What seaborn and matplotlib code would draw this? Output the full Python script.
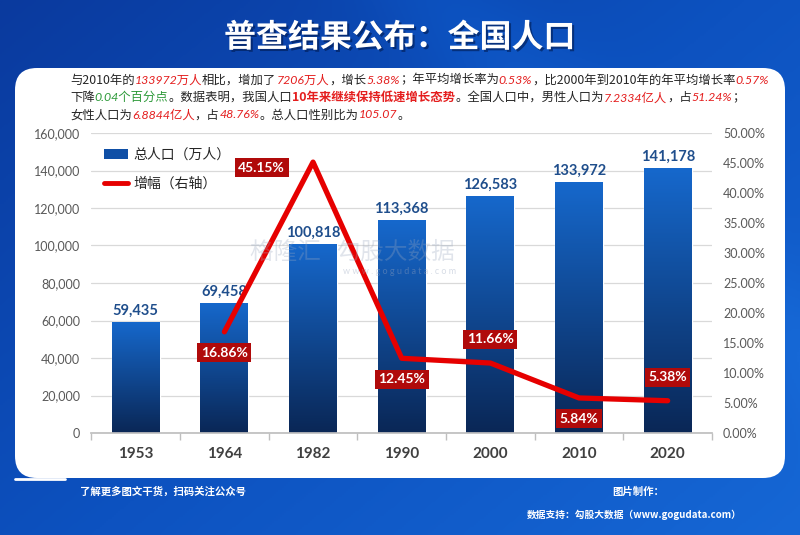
import numpy as np
import pandas as pd
import seaborn as sns
import matplotlib.pyplot as plt
import matplotlib.patheffects as pe
from matplotlib.patches import FancyBboxPatch, Patch
from matplotlib.lines import Line2D
from matplotlib.colors import LinearSegmentedColormap

# data
years = ["1953", "1964", "1982", "1990", "2000", "2010", "2020"]
population = [59435, 69458, 100818, 113368, 126583, 133972, 141178]
growth_years = ["1964", "1982", "1990", "2000", "2010", "2020"]
growth = [16.86, 45.15, 12.45, 11.66, 5.84, 5.38]
left_ticks = list(range(0, 160001, 20000))
right_ticks = [0, 5, 10, 15, 20, 25, 30, 35, 40, 45, 50]

# label offsets (points) for the growth boxes
label_offsets = [(0, -15), (-37, -4), (0, -15), (0, 17), (0, -15), (0, 17)]

title = "普查结果公布：全国人口"
K, R, G, RB = "#262626", "#e41e1e", "#2e9a3a", "rb"
para = [
    [("与2010年的", K), ("133972万人", R), ("相比，增加了", K), ("7206万人", R), ("，增长", K),
     ("5.38%", R), ("；年平均增长率为", K), ("0.53%", R), ("，比2000年到2010年的年平均增长率", K), ("0.57%", R)],
    [("下降", K), ("0.04个百分点", G), ("。数据表明，我国人口", K), ("10年来继续保持低速增长态势", RB),
     ("。全国人口中，男性人口为", K), ("7.2334亿人", R), ("，占", K), ("51.24%", R), ("；", K)],
    [("女性人口为", K), ("6.8844亿人", R), ("，占", K), ("48.76%", R), ("。总人口性别比为", K),
     ("105.07", R), ("。", K)],
]

sns.set_theme(style="white")
plt.rcParams['font.family'] = ['Lato', 'Noto Sans CJK SC', 'DejaVu Sans']
CJK = ['Noto Sans CJK SC', 'DejaVu Sans']

fig = plt.figure(figsize=(8, 5.35), dpi=100)

# background: blue page with white rounded panel
bg = fig.add_axes([0, 0, 1, 1], zorder=-10)
bg.set_xlim(0, 800)
bg.set_ylim(535, 0)
bg.axis('off')
xx, yy = np.meshgrid(np.linspace(0, 1, 400), np.linspace(0, 1, 270))
v = 0.55 * xx + 0.45 * yy + 0.18 * np.exp(-((xx - 0.7 * yy - 0.55) ** 2) / 0.01)
bg_cmap = LinearSegmentedColormap.from_list("bg", ["#0a3a9e", "#0d52c0", "#1668d6"])
bg.imshow(v, cmap=bg_cmap, extent=[0, 800, 535, 0], aspect='auto')
bg.add_patch(FancyBboxPatch((15, 68), 770, 410, boxstyle="round,pad=0,rounding_size=22",
                            facecolor="white", edgecolor="none"))
bg.plot([15, 65], [479, 479], color="white", lw=2)

fig.text(0.5, 1 - 38 / 535, title, ha="center", va="center", color="white", fontsize=23,
         fontweight="heavy", family=CJK,
         path_effects=[pe.withSimplePatchShadow(offset=(1.5, -1.5), shadow_rgbFace="#001a50", alpha=0.6)])

# rich paragraph text
renderer = fig.canvas.get_renderer()
for i, line in enumerate(para):
    x = 70
    y = 1 - (80 + i * 17.5) / 535
    for txt, col in line:
        kw = dict(fontsize=8.9, va="center", ha="left", family=CJK)
        if col == RB:
            kw.update(color=R, fontweight="bold")
        elif col == K:
            kw.update(color=K)
        else:
            kw.update(color=col, style="italic", family=['Lato', 'Noto Sans CJK SC'])
        t = fig.text(x / 800, y, txt, **kw)
        x += t.get_window_extent(renderer).width

# main chart
df = pd.DataFrame({"year": years, "population": population})
ax = fig.add_axes([91.4 / 800, 1 - 433 / 535, 620.6 / 800, 300 / 535])
sns.barplot(data=df, x="year", y="population", ax=ax, color="#1560c4",
            width=0.54, saturation=1, zorder=2)

bar_cmap = LinearSegmentedColormap.from_list("bar", ["#0a2756", "#1668cc"])
for p in ax.patches:
    x0, y0, w, h = p.get_x(), p.get_y(), p.get_width(), p.get_height()
    im = ax.imshow(np.linspace(0, 1, 200).reshape(-1, 1), cmap=bar_cmap, origin="lower",
                   extent=[x0, x0 + w, y0, y0 + h], aspect="auto", zorder=2.5)
    im.set_clip_path(p)

ax.bar_label(ax.containers[0], labels=[f"{v:,}" for v in population], padding=3,
             fontsize=10.5, fontweight="bold", color="#1f4e8c")

ax.set_xlim(-0.5, len(years) - 0.5)
ax.set_ylim(0, 160000)
ax.set_yticks(left_ticks)
ax.set_yticklabels([f"{v:,}" for v in left_ticks])
ax.yaxis.grid(True, color="#d9d9d9", lw=0.9)
ax.set_axisbelow(True)
ax.set_xlabel("")
ax.set_ylabel("")
for s in ["top", "right", "left"]:
    ax.spines[s].set_visible(False)
ax.spines["bottom"].set_color("#bfbfbf")
ax.set_xticks(np.arange(-0.5, len(years), 1), minor=True)
ax.tick_params(axis="x", which="minor", length=5, color="#bfbfbf", bottom=True)
ax.tick_params(axis="x", which="major", length=0, pad=10, labelsize=11, labelcolor="#404040")
ax.tick_params(axis="y", length=0, labelsize=9, labelcolor="#595959", pad=8)
for lab in ax.get_xticklabels():
    lab.set_fontweight("bold")

# growth line on right axis
ax2 = ax.twinx()
gx = [years.index(y) for y in growth_years]
sns.lineplot(x=gx, y=growth, ax=ax2, color="#e60000", lw=3.8, zorder=5,
             solid_capstyle="round", solid_joinstyle="round")
ax2.set_ylim(0, 50)
ax2.set_yticks(right_ticks)
ax2.set_yticklabels([f"{v:.2f}%" for v in right_ticks])
ax2.tick_params(axis="y", length=0, labelsize=9, labelcolor="#595959", pad=8)
for s in ax2.spines.values():
    s.set_visible(False)
ax2.grid(False)
for xi, gv, off in zip(gx, growth, label_offsets):
    ax2.annotate(f"{gv:.2f}%", (xi, gv), xytext=off, textcoords="offset points",
                 ha="center", va="center", color="white", fontsize=10, fontweight="bold",
                 bbox=dict(boxstyle="square,pad=0.25", facecolor="#b00a0a", edgecolor="none"),
                 zorder=6)

# faint watermark
fig.text(0.44, 1 - 252 / 535, "格隆汇   勾股大数据", ha="center", va="center", fontsize=17,
         color="#9aa8c0", alpha=0.3, family=CJK, zorder=0)
fig.text(0.5, 1 - 272 / 535, "w w w . g o g u d a t a . c o m", ha="center", va="center",
         fontsize=6.5, color="#9aa8c0", alpha=0.4, zorder=0)

# legend
handles = [Patch(facecolor="#0f4fa6", edgecolor="none"),
           Line2D([], [], color="#e60000", lw=3.5)]
ax2.legend(handles, ["总人口（万人）", "增幅（右轴）"], loc="upper left",
           bbox_to_anchor=(0.0, 0.993), frameon=False, prop={"family": CJK, "size": 10},
           handlelength=1.7, handleheight=0.7, labelspacing=1.1, handletextpad=0.4)

# footer
fig.text(80 / 800, 1 - 492 / 535, "了解更多图文干货，扫码关注公众号", color="white",
         fontsize=7.5, va="center", family=CJK, fontweight="bold")
fig.text(612 / 800, 1 - 492 / 535, "图片制作：", color="white", fontsize=7.5,
         va="center", family=CJK, fontweight="bold")
fig.text(527 / 800, 1 - 515 / 535, "数据支持：勾股大数据（www.gogudata.com）", color="white",
         fontsize=7, va="center", family=CJK, fontweight="bold")

fig.savefig("out.png", dpi=100)
